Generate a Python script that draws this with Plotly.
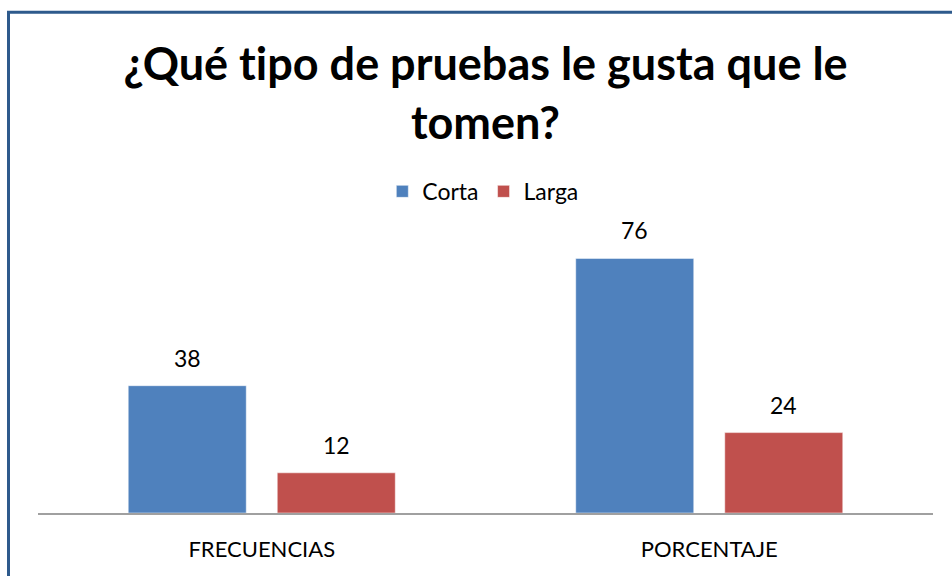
import plotly.graph_objects as go

categorias = ["FRECUENCIAS", "PORCENTAJE"]
corta = [38, 76]
larga = [12, 24]

azul = "#4F81BD"
rojo = "#C0504D"
fuente = "Lato"

fig = go.Figure()
fig.add_trace(go.Bar(name="Corta", x=categorias, y=corta, marker_color=azul))
fig.add_trace(go.Bar(name="Larga", x=categorias, y=larga, marker_color=rojo))

# etiquetas de datos encima de cada barra
for serie, desplaz in [(corta, -74.5), (larga, 74.5)]:
    for cat, val in zip(categorias, serie):
        fig.add_annotation(
            x=cat, y=val, text=str(val), showarrow=False,
            xshift=desplaz, yshift=12, yanchor="bottom",
            font=dict(family=fuente, size=23, color="black")
        )

# marco del gráfico
fig.add_shape(
    type="rect", xref="paper", yref="paper",
    x0=(8.5 - 38) / 895, x1=(965 - 38) / 895,
    y0=(513 - 600) / 268.4, y1=(513 - 11.5) / 268.4,
    line=dict(color="#2E5A8C", width=3)
)

# \u200c evita la ligadura "ti" de Lato
titulo = "¿Qué t\u200cipo de pruebas le gusta que le<br>tomen?"

fig.update_layout(
    width=952,
    height=576,
    template="plotly_white",
    paper_bgcolor="white",
    plot_bgcolor="white",
    barmode="group",
    bargap=0.334,
    bargroupgap=0.208,
    margin=dict(l=38, r=19, t=244.6, b=63),
    title=dict(
        text=titulo,
        xref="paper", x=0.5, xanchor="center", y=1 - 80 / 576, yanchor="top",
        font=dict(family=fuente, size=45, color="black", weight="bold")
    ),
    legend=dict(
        orientation="h", x=0.497, xanchor="center", y=1.2, yanchor="middle",
        font=dict(family=fuente, size=23, color="black"),
        itemwidth=30, tracegroupgap=0
    ),
    xaxis=dict(
        showline=True, linecolor="#A0A0A0", linewidth=2,
        showgrid=False, ticks="", ticklabelstandoff=16,
        tickfont=dict(family=fuente, size=22, color="black")
    ),
    yaxis=dict(range=[0, 80], visible=False, showgrid=False, zeroline=False),
    font=dict(family=fuente)
)

fig.write_html(
    "out.html",
    config={"displayModeBar": False},
    post_script="document.body.style.margin='0';"
)
